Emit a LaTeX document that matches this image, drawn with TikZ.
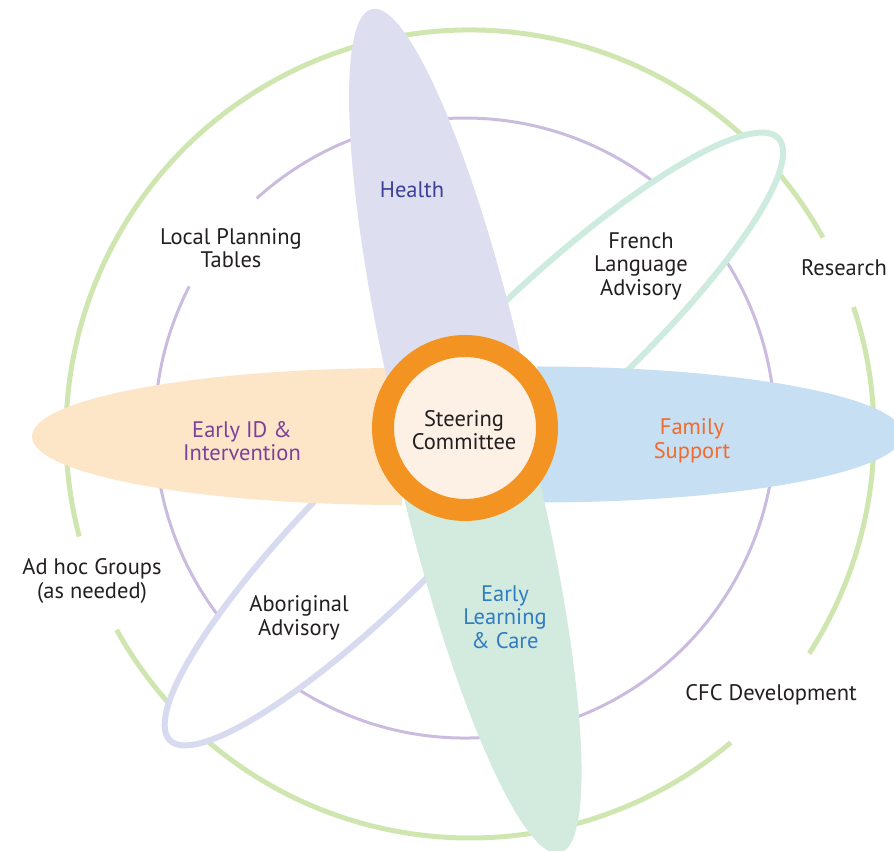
\documentclass[tikz,border=0pt]{standalone}
\usepackage{fontspec}
\setmainfont{PT Sans}
\definecolor{gcirc}{HTML}{CFE6B0}
\definecolor{pcirc}{HTML}{CBBCDF}
\definecolor{frline}{HTML}{CDEBDF}
\definecolor{abline}{HTML}{D8DBF0}
\definecolor{healthfill}{HTML}{DDDFF0}
\definecolor{eidfill}{HTML}{FDE5C8}
\definecolor{fsfill}{HTML}{C6DFF2}
\definecolor{elfill}{HTML}{D3EBDF}
\definecolor{ringor}{HTML}{F39422}
\definecolor{ringin}{HTML}{FDF1E5}
\definecolor{txtdark}{HTML}{231F20}
\definecolor{txthealth}{HTML}{3D3F96}
\definecolor{txteid}{HTML}{7D409A}
\definecolor{txtfs}{HTML}{F26A2C}
\definecolor{txtel}{HTML}{2F7CC4}
\tikzset{
  lbl/.style={align=center, inner sep=0pt, font=\fontsize{22.5}{23.5}\selectfont, text=txtdark},
}
\begin{document}
\begin{tikzpicture}[x=1pt,y=1pt]
\useasboundingbox (0,0) rectangle (894,851);
% outer green circle (three arcs)
\coordinate (gc) at (470,417);
\draw[gcirc, line width=5pt] (gc) ++(29.1:404) arc[start angle=29.1, end angle=194.7, radius=404];
\draw[gcirc, line width=5pt] (gc) ++(209:404) arc[start angle=209, end angle=310.2, radius=404];
\draw[gcirc, line width=5pt] (gc) ++(327.1:404) arc[start angle=327.1, end angle=378.3, radius=404];
% inner purple circle
\coordinate (pc) at (465,423);
\draw[pcirc, line width=3pt] (pc) ++(152.8:310) arc[start angle=152.8, end angle=492.2, radius=310];
% French Language Advisory outline
\begin{scope}[shift={(559,508)}, rotate=43]
\filldraw[fill=white, draw=frline, line width=6pt] ({300*cos(-105)},{67*sin(-105)}) arc[start angle=-105, end angle=105, x radius=300, y radius=67];
\end{scope}
% Aboriginal Advisory outline
\begin{scope}[shift={(382,323)}, rotate=225]
\filldraw[fill=white, draw=abline, line width=6pt] ({300*cos(-105)},{67*sin(-105)}) arc[start angle=-105, end angle=105, x radius=300, y radius=67];
\end{scope}
% Family Support
\begin{scope}[shift={(537,416.5)}]
\fill[fsfill] (0,-68) arc[start angle=-90, end angle=90, x radius=366, y radius=68] -- cycle;
\end{scope}
% Early ID
\begin{scope}[shift={(402,414.5)}, rotate=180]
\fill[eidfill] (0,-68.5) arc[start angle=-90, end angle=90, x radius=370, y radius=68.5] -- cycle;
\end{scope}
% Early Learning & Care
\begin{scope}[shift={(469.6,370.7)}, rotate=-76.37]
\fill[elfill] (0,-68) arc[start angle=-90, end angle=90, x radius=383.5, y radius=68] -- cycle;
\end{scope}
% Health
\begin{scope}[shift={(456.7,471.5)}, rotate=102.9]
\fill[healthfill] (0,-68) arc[start angle=-90, end angle=90, x radius=380, y radius=68] -- cycle;
\end{scope}
% Steering ring
\node[circle, draw=ringor, line width=22pt, fill=ringin, minimum size=164pt, inner sep=0pt] (ring) at (465,423) {};
% labels
\node[lbl] (steer) at (464,421) {Steering\\Committee};
\node[lbl, text=txthealth] (health) at (412,661) {Health};
\node[lbl] (lpt) at (231,603) {Local Planning\\Tables};
\node[lbl] (fla) at (641,585) {French\\Language\\Advisory};
\node[lbl] (res) at (844,583) {Research};
\node[lbl, text=txteid] (eid) at (242,410) {Early ID \&\\Intervention};
\node[lbl, text=txtfs] (fs) at (692,410) {Family\\Support};
\node[lbl] (adhoc) at (92,270) {Ad hoc Groups\\(as needed)};
\node[lbl] (abo) at (299,233) {Aboriginal\\Advisory};
\node[lbl, text=txtel] (el) at (505,234) {Early\\Learning\\\& Care};
\node[lbl] (cfc) at (771,156) {CFC Development};
\end{tikzpicture}
\end{document}
